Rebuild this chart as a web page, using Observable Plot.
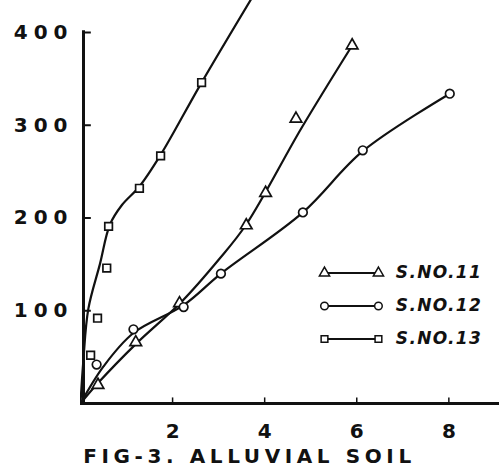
<!DOCTYPE html>
<html>
<head>
<meta charset="utf-8">
<script src="https://cdn.jsdelivr.net/npm/d3@7"></script>
<script src="https://cdn.jsdelivr.net/npm/@observablehq/plot@0.6"></script>
<style>
  html, body { margin: 0; padding: 0; background: #fff; }
  #wrap { position: relative; width: 499px; height: 473px; font-family: "DejaVu Sans", sans-serif; }
  #chart { position: absolute; left: 0; top: 0; }
  #caption { position: absolute; left: 0; width: 499px; top: 444px; text-align: center;
    font-size: 20px; letter-spacing: 4.6px; color: #111; font-weight: 600; padding-left: 0; }
  #legend { position: absolute; left: 318px; top: 255px; }
  #chart g[aria-label="y-axis tick label"] text { letter-spacing: 6px; }
  #legend g[aria-label="text"] text { letter-spacing: 1.3px; }
</style>
</head>
<body>
<div id="wrap">
  <div id="chart"></div>
  <div id="legend"></div>
  <div id="caption">FIG-3. ALLUVIAL SOIL</div>
</div>
<script>
const seriesNames = ["S.NO.11", "S.NO.12", "S.NO.13"];
const seriesSymbols = ["triangle", "circle", "square"];

// plotted (marked) observations
// S.NO.11 (triangles)
const x11 = [0.38, 1.2, 2.15, 3.6, 4.02, 4.68, 5.9];
const y11 = [20, 66, 108, 192, 227, 307, 386];
// S.NO.12 (circles)
const x12 = [0.35, 1.15, 2.24, 3.05, 4.83, 6.13, 8.02];
const y12 = [42, 80, 104, 140, 206, 273, 334];
// S.NO.13 (squares)
const x13 = [0.22, 0.37, 0.57, 0.61, 1.28, 1.74, 2.63];
const y13 = [52, 92, 146, 191, 232, 267, 346];

// hand-drawn fitted curves, as read from the sheet
const curve11x = [0, 0.38, 1.2, 2.2, 3.0, 3.6, 4.8, 5.9];
const curve11y = [0, 22, 64, 110, 155, 193, 297, 386];
const curve12x = [0, 0.5, 1.15, 2.24, 3.05, 4.83, 6.13, 8.02];
const curve12y = [0, 40, 76, 106, 140, 206, 272, 334];
const curve13x = [0, 0.06, 0.17, 0.42, 0.64, 0.9, 1.28, 1.74, 2.63, 3.9];
const curve13y = [0, 45, 102, 150, 193, 214, 234, 268, 346, 452];

const xTicks = [2, 4, 6, 8];
const yTicks = [100, 200, 300, 400];

const toRows = (name, xs, ys) => xs.map((x, i) => ({series: name, x, y: ys[i]}));
const points = [
  ...toRows("S.NO.11", x11, y11),
  ...toRows("S.NO.12", x12, y12),
  ...toRows("S.NO.13", x13, y13)
];
const curves = [
  ...toRows("S.NO.11", curve11x, curve11y),
  ...toRows("S.NO.12", curve12x, curve12y),
  ...toRows("S.NO.13", curve13x, curve13y)
];

const ink = "#111";
const chart = Plot.plot({
  width: 499,
  height: 446,
  marginLeft: 80,
  marginRight: 0,
  marginTop: 0,
  marginBottom: 43,
  style: {fontFamily: "DejaVu Sans, sans-serif", color: ink, background: "transparent"},
  x: {domain: [0, 9.1], label: null},
  y: {domain: [0, 434.5], label: null},
  symbol: {domain: seriesNames, range: seriesSymbols},
  marks: [
    Plot.ruleY([0], {stroke: ink, strokeWidth: 3}),
    Plot.ruleX([0], {y1: 0, y2: 402, stroke: ink, strokeWidth: 3, dx: 3}),
    // short inward tick marks
    Plot.ruleY(yTicks, {x1: 0, x2: 0.17, dx: 3, stroke: ink, strokeWidth: 2}),
    Plot.ruleX(xTicks, {y1: 0, y2: 6, stroke: ink, strokeWidth: 1.5}),
    Plot.axisX({ticks: xTicks, tickSize: 0, tickPadding: 20, fontSize: 20, fontWeight: 600, label: null}),
    Plot.axisY({ticks: yTicks, tickSize: 0, tickPadding: 7, fontSize: 20, fontWeight: 600, label: null}),
    Plot.line(curves, {x: "x", y: "y", z: "series", curve: "catmull-rom", stroke: ink, strokeWidth: 2.2, clip: true}),
    Plot.dot(points, {x: "x", y: "y", symbol: "series", r: 4.3, stroke: ink, strokeWidth: 1.7, fill: "white"})
  ]
});
document.getElementById("chart").append(chart);

// legend drawn with Plot as well
const legendRows = seriesNames.map((name, i) => ({name, symbol: seriesSymbols[i]}));
const legend = Plot.plot({
  width: 180,
  height: 100,
  margin: 0,
  marginLeft: 6,
  style: {fontFamily: "DejaVu Sans, sans-serif", color: ink, background: "transparent"},
  x: {domain: [0, 1], axis: null},
  y: {type: "band", domain: seriesNames, axis: null, padding: 0},
  symbol: {domain: seriesNames, range: seriesSymbols},
  marks: [
    Plot.ruleY(legendRows, {y: "name", x1: 0, x2: 0.31, stroke: ink, strokeWidth: 1.8}),
    Plot.dot(legendRows, {y: "name", x: 0, symbol: "name", r: 3.8, stroke: ink, strokeWidth: 1.5, fill: "white"}),
    Plot.dot(legendRows, {y: "name", x: 0.31, symbol: "name", r: 3.8, stroke: ink, strokeWidth: 1.5, fill: "white"}),
    Plot.text(legendRows, {y: "name", x: 0.41, text: "name", textAnchor: "start", fontSize: 17, fontStyle: "italic", fontWeight: 600, fill: ink})
  ]
});
document.getElementById("legend").append(legend);
</script>
</body>
</html>
